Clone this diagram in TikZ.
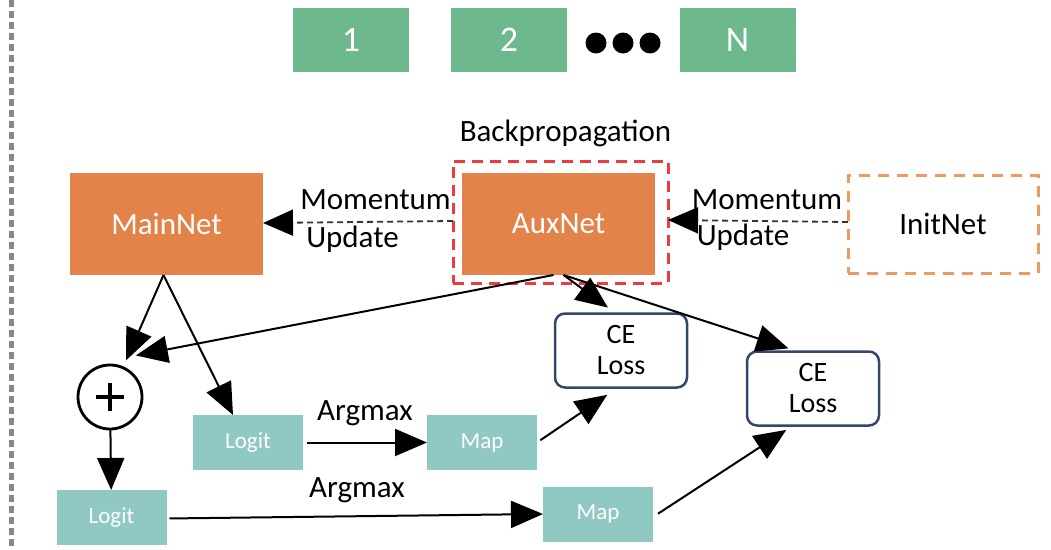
\documentclass[tikz,border=0pt]{standalone}
\usepackage{fontspec}
\setmainfont{Carlito}
\usetikzlibrary{arrows.meta,calc}
\definecolor{netorange}{HTML}{E3834A}
\definecolor{initorange}{HTML}{EE9A60}
\definecolor{bpred}{HTML}{EE3B3B}
\definecolor{idgreen}{HTML}{6DB88C}
\definecolor{mapteal}{HTML}{90C8C4}
\definecolor{lossnavy}{HTML}{34466E}
\definecolor{sidegray}{HTML}{888888}
\begin{document}
\begin{tikzpicture}[x=1pt,y=-1pt,
  every node/.style={inner sep=0pt,outer sep=0pt},
  idbox/.style={fill=idgreen,minimum width=116pt,minimum height=64pt,text=white,font=\fontsize{36}{40}\selectfont},
  netbox/.style={fill=netorange,minimum width=193pt,minimum height=102pt,text=white,font=\fontsize{31}{35}\selectfont},
  smallbox/.style={fill=mapteal,minimum width=110pt,minimum height=55pt,text=white,font=\fontsize{23}{26}\selectfont},
  lossbox/.style={draw=lossnavy,line width=2.5pt,rounded corners=10pt,minimum width=132pt,minimum height=74pt,align=center,font=\fontsize{28}{31}\selectfont},
  lbl/.style={font=\fontsize{31}{35}\selectfont},
  arr/.style={line width=2pt,-{Triangle[length=32pt,width=27pt]}},
  momarr/.style={line width=1.8pt,draw=black!80,dash pattern=on 6pt off 4pt,-{Triangle[length=30pt,width=26pt,color=black,fill=black]}},
  dotmark/.style={circle,fill=black,minimum size=21pt},
  sumnode/.style={circle,draw,line width=2.8pt,minimum size=64pt,
    path picture={\draw[line width=3.5pt] ([xshift=-14pt]path picture bounding box.center) -- ([xshift=14pt]path picture bounding box.center)
      ([yshift=-14pt]path picture bounding box.center) -- ([yshift=14pt]path picture bounding box.center);}}
]
\useasboundingbox (0,0) rectangle (1051,549);
% left dashed separator
\coordinate (sepTop) at (11,0);
\coordinate (sepBot) at (11,549);
\draw[sidegray,line width=5pt,dash pattern=on 7pt off 4pt] (sepTop) -- (sepBot);

% id boxes
\node[idbox] (id1) at (351,40) {1};
\node[idbox] (id2) at (509,40) {2};
\node[dotmark] (d1) at (596,43) {};
\node[dotmark] (d2) at (623,43) {};
\node[dotmark] (d3) at (650,43) {};
\node[idbox] (idN) at (737.5,40) {N};

% networks
\node[netbox] (main) at (166.5,224) {MainNet};
\node[draw=bpred,line width=3pt,dash pattern=on 11pt off 7pt,minimum width=215pt,minimum height=122pt] (bp) at (560.5,222) {};
\node[netbox] (aux) at (558.5,224) {AuxNet};
\node[lbl] (bplabel) at (565.5,133) {Backpropagation};
\node[draw=initorange,line width=3pt,dash pattern=on 11pt off 8pt,minimum width=190pt,minimum height=98pt,lbl] (init) at (943,224) {InitNet};

% momentum updates
\draw[momarr] ([yshift=1pt]bp.west) -- ([yshift=1pt]main.east);
\node[lbl] (mom1) at (375.5,200) {Momentum};
\node[lbl] (upd1) at (352.5,239) {Update};
\draw[momarr] ([yshift=2pt]init.west) -- ([yshift=2pt]bp.east);
\node[lbl] (mom2) at (767,200) {Momentum};
\node[lbl] (upd2) at (743,237) {Update};

% lower part
\node[sumnode] (plus) at (110,397) {};
\node[smallbox] (logit1) at (248,442.5) {Logit};
\node[smallbox] (map1) at (482,442.5) {Map};
\node[smallbox] (logit2) at (111.5,517.5) {Logit};
\node[smallbox] (map2) at (598,514) {Map};
\node[lossbox] (ce1) at (621,350.5) {CE\\Loss};
\node[lossbox] (ce2) at (813,388.5) {CE\\Loss};

\draw[arr,shorten >=8pt] ([xshift=-3pt]main.south) -- (plus);
\draw[arr] ([xshift=-3pt]main.south) -- ([xshift=-15pt]logit1.north);
\draw[arr,shorten >=8pt] ([xshift=-5pt]aux.south) -- ([xshift=18pt,yshift=8pt]plus.north);
\draw[arr] (plus) -- (logit2);
\draw[arr,shorten >=10pt] ([xshift=5pt]aux.south) -- ([xshift=-5pt]ce1.north);
\draw[arr,shorten >=10pt] ([xshift=5pt]aux.south) -- ([xshift=-15pt]ce2.north);
\draw[arr,shorten <=4pt] (logit1.east) -- (map1.west);
\node[lbl] (am1) at (365,413) {Argmax};
\draw[arr,shorten <=3pt] ([yshift=-1pt]logit2.east) -- (map2.west);
\node[lbl] (am2) at (357,490) {Argmax};
\draw[arr,shorten <=4pt,shorten >=13pt] (map1.east) -- ([xshift=-3pt]ce1.south);
\draw[arr,shorten <=6pt,shorten >=8pt] ([yshift=-3pt]map2.east) -- ([xshift=-20pt]ce2.south);
\end{tikzpicture}
\end{document}
